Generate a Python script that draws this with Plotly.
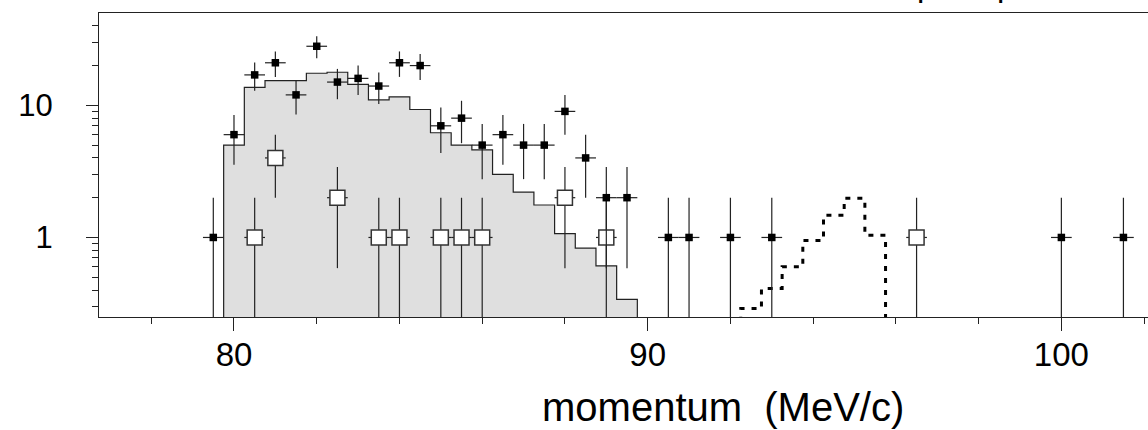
import numpy as np
import plotly.graph_objects as go

# Measured spectrum: counts per 0.5 MeV/c bin (filled squares)
data_p = [79.5, 80.0, 80.5, 81.0, 81.5, 82.0, 82.5, 83.0, 83.5, 84.0, 84.5,
          85.0, 85.5, 86.0, 86.5, 87.0, 87.5, 88.0, 88.5, 89.0, 89.5,
          90.5, 91.0, 92.0, 93.0, 100.0, 101.5]
data_n = [1, 6, 17, 21, 12, 28, 15, 16, 14, 21, 20,
          7, 8, 5, 6, 5, 5, 9, 4, 2, 2,
          1, 1, 1, 1, 1, 1]

# Second sample (open squares)
side_p = [80.5, 81.0, 82.5, 83.5, 84.0, 85.0, 85.5, 86.0, 88.0, 89.0, 96.5]
side_n = [1, 4, 2, 1, 1, 1, 1, 1, 2, 1, 1]

# Expected background spectrum (shaded histogram), bin centres and contents
bkg_p = [80.0, 80.5, 81.0, 81.5, 82.0, 82.5, 83.0, 83.5, 84.0, 84.5,
         85.0, 85.5, 86.0, 86.5, 87.0, 87.5, 88.0, 88.5, 89.0, 89.5]
bkg_v = [5.0, 13.7, 15.4, 15.4, 17.5, 17.8, 14.4, 11.0, 11.6, 9.3,
         6.2, 5.0, 4.6, 3.0, 2.2, 1.76, 1.07, 0.83, 0.61, 0.34]

# Expected signal shape (dashed histogram)
sig_p = [92.5, 93.0, 93.5, 94.0, 94.5, 95.0, 95.5]
sig_v = [0.29, 0.41, 0.60, 0.95, 1.47, 1.98, 1.04]

x_ticks = [80, 90, 100]
y_ticks = [1, 10]
y_minor = [0.3, 0.4, 0.5, 0.6, 0.7, 0.8, 0.9,
           2, 3, 4, 5, 6, 7, 8, 9, 20, 30, 40]

BIN = 0.5
FLOOR = 0.01  # below the visible y range, so histogram edges drop to the axis


def step_outline(centres, values):
    xs, ys = [centres[0] - BIN / 2], [FLOOR]
    for c, v in zip(centres, values):
        xs += [c - BIN / 2, c + BIN / 2]
        ys += [v, v]
    xs.append(centres[-1] + BIN / 2)
    ys.append(FLOOR)
    return xs, ys


LINE = "#222222"
FONT = "Liberation Sans, Arial, Helvetica, sans-serif"

fig = go.Figure()

bx, by = step_outline(bkg_p, bkg_v)
fig.add_trace(go.Scatter(
    x=bx, y=by, mode="lines", fill="toself", fillcolor="#dfdfdf",
    line=dict(color=LINE, width=1.2), hoverinfo="skip", showlegend=False))

sx, sy = step_outline(sig_p, sig_v)
fig.add_trace(go.Scatter(
    x=sx, y=sy, mode="lines",
    line=dict(color="black", width=3, dash="5px,7px"),
    hoverinfo="skip", showlegend=False))

side_err = np.sqrt(side_n)
fig.add_trace(go.Scatter(
    x=side_p, y=side_n, mode="markers",
    marker=dict(symbol="square", size=15, color="white",
                line=dict(color="#333333", width=1.5)),
    error_y=dict(type="data", array=side_err, color=LINE, thickness=1.2, width=0),
    error_x=dict(type="constant", value=BIN / 2, color=LINE, thickness=1.2, width=0),
    showlegend=False))

data_err = np.sqrt(data_n)
fig.add_trace(go.Scatter(
    x=data_p, y=data_n, mode="markers",
    marker=dict(symbol="square", size=7.5, color="black"),
    error_y=dict(type="data", array=data_err, color=LINE, thickness=1.2, width=0),
    error_x=dict(type="constant", value=BIN / 2, color=LINE, thickness=1.2, width=0),
    showlegend=False))

fig.update_xaxes(
    range=[76.737, 102.094], tickvals=x_ticks, ticktext=[str(v) for v in x_ticks],
    ticks="outside", ticklen=13, tickwidth=1, tickcolor=LINE,
    minor=dict(dtick=2, ticks="outside", ticklen=6, tickwidth=1, tickcolor=LINE),
    showline=True, linecolor=LINE, linewidth=1.3, mirror=True,
    showgrid=False, zeroline=False,
    tickfont=dict(family=FONT, size=33, color="black"),
    ticklabelstandoff=-5)

fig.update_yaxes(
    type="log", range=[np.log10(0.25), np.log10(50)],
    tickvals=y_ticks, ticktext=[str(v) for v in y_ticks],
    ticks="outside", ticklen=12, tickwidth=1, tickcolor=LINE,
    minor=dict(tickvals=y_minor, ticks="outside", ticklen=6, tickwidth=1, tickcolor=LINE),
    showline=True, linecolor=LINE, linewidth=1.3, mirror=False,
    showgrid=False, zeroline=False,
    tickfont=dict(family=FONT, size=31, color="black"),
    ticklabelstandoff=27)

fig.add_annotation(
    text="momentum  (MeV/c)", xref="paper", yref="paper",
    x=0.595, y=-0.297, xanchor="center", yanchor="middle",
    showarrow=False, font=dict(family=FONT, size=40, color="black"))

# labels above the frame, mostly outside the page
for px in (0.7779, 0.8541):
    fig.add_annotation(
        text="p", xref="paper", yref="paper", x=px, y=1.0,
        xanchor="left", yanchor="bottom", yshift=8,
        showarrow=False, font=dict(family=FONT, size=33, color="black"))

fig.update_layout(
    width=1148, height=430,
    margin=dict(l=99, r=0, t=13, b=113),
    paper_bgcolor="white", plot_bgcolor="white",
    showlegend=False)

fig.write_html("out.html")
